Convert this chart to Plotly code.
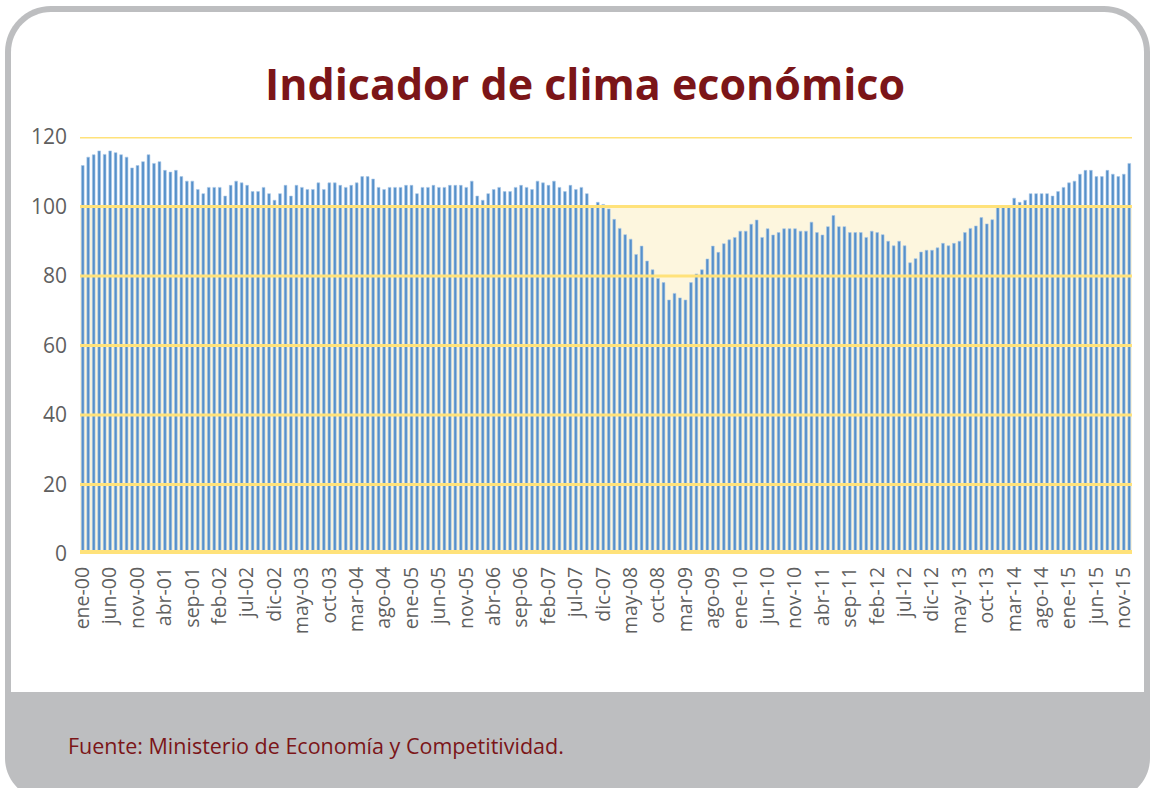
import plotly.graph_objects as go

# ---------------- data ----------------
meses = ["ene", "feb", "mar", "abr", "may", "jun", "jul", "ago", "sep", "oct", "nov", "dic"]
anios = ["00", "01", "02", "03", "04", "05", "06", "07", "08", "09", "10", "11", "12", "13", "14", "15"]
categorias = [f"{m}-{a}" for a in anios for m in meses]

valores = [
    # ene-00 .. mar-04
    111.8, 114.2, 114.9, 116.0, 115.0, 116.0, 115.5, 114.9, 114.2, 111.1,
    111.8, 112.9, 114.9, 112.4, 112.9, 110.4, 109.9, 110.4, 108.6, 107.3,
    107.3, 104.9, 103.7, 105.5, 105.5, 105.5, 103.0, 106.1, 107.3, 106.8,
    106.1, 104.3, 104.3, 105.5, 103.7, 101.8, 103.7, 106.1, 103.0, 106.1,
    105.5, 104.9, 104.9, 106.8, 104.9, 106.8, 106.8, 106.1, 105.5, 106.1,
    106.8,
    # abr-04 .. may-08
    108.6, 108.6, 107.9, 105.5, 104.9, 105.5, 105.5, 105.5, 106.1, 106.1,
    103.7, 105.5, 105.5, 106.1, 105.5, 105.5, 106.1, 106.1, 106.1, 105.5,
    107.3, 103.0, 101.8, 103.7, 104.9, 105.5, 104.3, 104.3, 105.5, 106.1,
    105.5, 104.9, 107.3, 106.8, 106.1, 107.3, 105.5, 104.3, 106.1, 104.9,
    105.5, 103.7, 99.7, 101.2, 100.6, 99.3, 96.3, 93.7, 91.9, 90.6,
    # jun-08 .. feb-12
    86.2, 88.6, 84.3, 81.8, 79.3, 78.1, 73.1, 75.0, 73.7, 73.1,
    78.1, 80.6, 81.8, 84.9, 88.6, 86.8, 89.3, 90.4, 91.1, 92.9,
    92.9, 94.9, 96.1, 91.1, 93.6, 91.8, 92.5, 93.6, 93.6, 93.6,
    92.9, 92.9, 95.5, 92.5, 91.8, 94.2, 97.4, 94.2, 94.2, 92.5,
    92.5, 92.5, 91.1, 92.9, 92.5,
    # mar-12 .. dic-15
    91.9, 90.0, 88.7, 90.0, 88.7, 83.8, 85.0, 86.9, 87.4, 87.4,
    88.1, 89.4, 88.7, 89.4, 90.0, 92.5, 93.7, 94.4, 96.8, 95.0,
    96.2, 99.7, 99.7, 99.7, 102.4, 101.2, 101.8, 103.7, 103.7, 103.7,
    103.7, 103.0, 104.3, 105.5, 106.8, 107.3, 109.3, 110.4, 110.4, 108.6,
    108.6, 110.4, 109.3, 108.6, 109.3, 112.4,
]

y_ticks = [0, 20, 40, 60, 80, 100, 120]
x_ticks = categorias[::5]
banda_ref = 100

titulo = "Indicador de clima económico"
fuente = "Fuente: Ministerio de Economía y Competitividad."

# ---------------- layout geometry (pixels) ----------------
W, H = 1152, 788
L, R, T, B = 80, 20, 137, 234
PW, PH = W - L - R, H - T - B


def px(x):
    return (x - L) / PW


def py(y):
    return (H - B - y) / PH


def rrect(x0, y0, x1, y1, rt, rb):
    """rounded rectangle path in paper coords from pixel values"""
    k = 0.5523
    pts = [f"M{px(x0 + rt)},{py(y0)}", f"L{px(x1 - rt)},{py(y0)}",
           f"C{px(x1 - rt + k * rt)},{py(y0)} {px(x1)},{py(y0 + rt - k * rt)} {px(x1)},{py(y0 + rt)}",
           f"L{px(x1)},{py(y1 - rb)}"]
    if rb:
        pts.append(f"C{px(x1)},{py(y1 - rb + k * rb)} {px(x1 - rb + k * rb)},{py(y1)} {px(x1 - rb)},{py(y1)}")
    pts.append(f"L{px(x0 + rb)},{py(y1)}")
    if rb:
        pts.append(f"C{px(x0 + rb - k * rb)},{py(y1)} {px(x0)},{py(y1 - rb + k * rb)} {px(x0)},{py(y1 - rb)}")
    pts.append(f"L{px(x0)},{py(y0 + rt)}")
    pts.append(f"C{px(x0)},{py(y0 + rt - k * rt)} {px(x0 + rt - k * rt)},{py(y0)} {px(x0 + rt)},{py(y0)}")
    pts.append("Z")
    return " ".join(pts)


GRAY = "#bdbec0"
YELLOW = "#ffe27a"
CREAM = "#fdf6de"
RED = "#7b1518"
TXT = "#5f5f5f"

shapes = [
    dict(type="path", xref="paper", yref="paper", layer="below",
         path=rrect(5, 6, 1150, 800, 46, 42), fillcolor=GRAY, line=dict(width=0)),
    dict(type="path", xref="paper", yref="paper", layer="below",
         path=rrect(11, 12, 1144, 692, 40, 0), fillcolor="white", line=dict(width=0)),
    dict(type="rect", xref="paper", yref="y", layer="below",
         x0=0, x1=1, y0=0, y1=banda_ref, fillcolor=CREAM, line=dict(width=0)),
]
for v in y_ticks:
    shapes.append(dict(type="line", xref="paper", yref="y", layer="above",
                       x0=0, x1=1, y0=v, y1=v,
                       line=dict(color=YELLOW, width=8 if v == 0 else 3)))

fig = go.Figure()
fig.add_trace(go.Bar(
    x=categorias, y=valores,
    marker=dict(color="#5690ca", line=dict(color="#a9c8e8", width=0.6)),
    hoverinfo="x+y",
))

fig.update_layout(
    width=W, height=H,
    margin=dict(l=L, r=R, t=T, b=B),
    paper_bgcolor="white", plot_bgcolor="rgba(0,0,0,0)",
    bargap=0.5,
    showlegend=False,
    shapes=shapes,
    font=dict(family="Open Sans, Noto Sans, sans-serif", color=TXT),
    annotations=[
        dict(text=f"<b>{titulo}</b>", xref="paper", yref="paper",
             x=px(585), y=py(84), xanchor="center", yanchor="middle",
             showarrow=False, font=dict(size=43, color=RED, family="Open Sans")),
        dict(text=fuente, xref="paper", yref="paper",
             x=px(66), y=py(745), xanchor="left", yanchor="middle",
             showarrow=False, font=dict(size=21.5, color=RED, family="Open Sans")),
    ],
)
fig.update_xaxes(
    type="category", categoryorder="array", categoryarray=categorias,
    tickmode="array", tickvals=x_ticks, ticktext=x_ticks,
    tickangle=-90, tickfont=dict(size=19.5, color=TXT),
    showgrid=False, zeroline=False, showline=False, ticks="",
    ticklabelstandoff=8,
    range=[-0.5, len(categorias) - 0.5],
)
fig.update_yaxes(
    range=[0, 120], tickmode="array", tickvals=y_ticks,
    tickfont=dict(size=21, color=TXT),
    showgrid=False, zeroline=False, showline=False, ticks="",
    ticklabelstandoff=12,
)

fig.write_html("out.html", config={"displayModeBar": False},
               post_script="document.body.style.margin='0';")
